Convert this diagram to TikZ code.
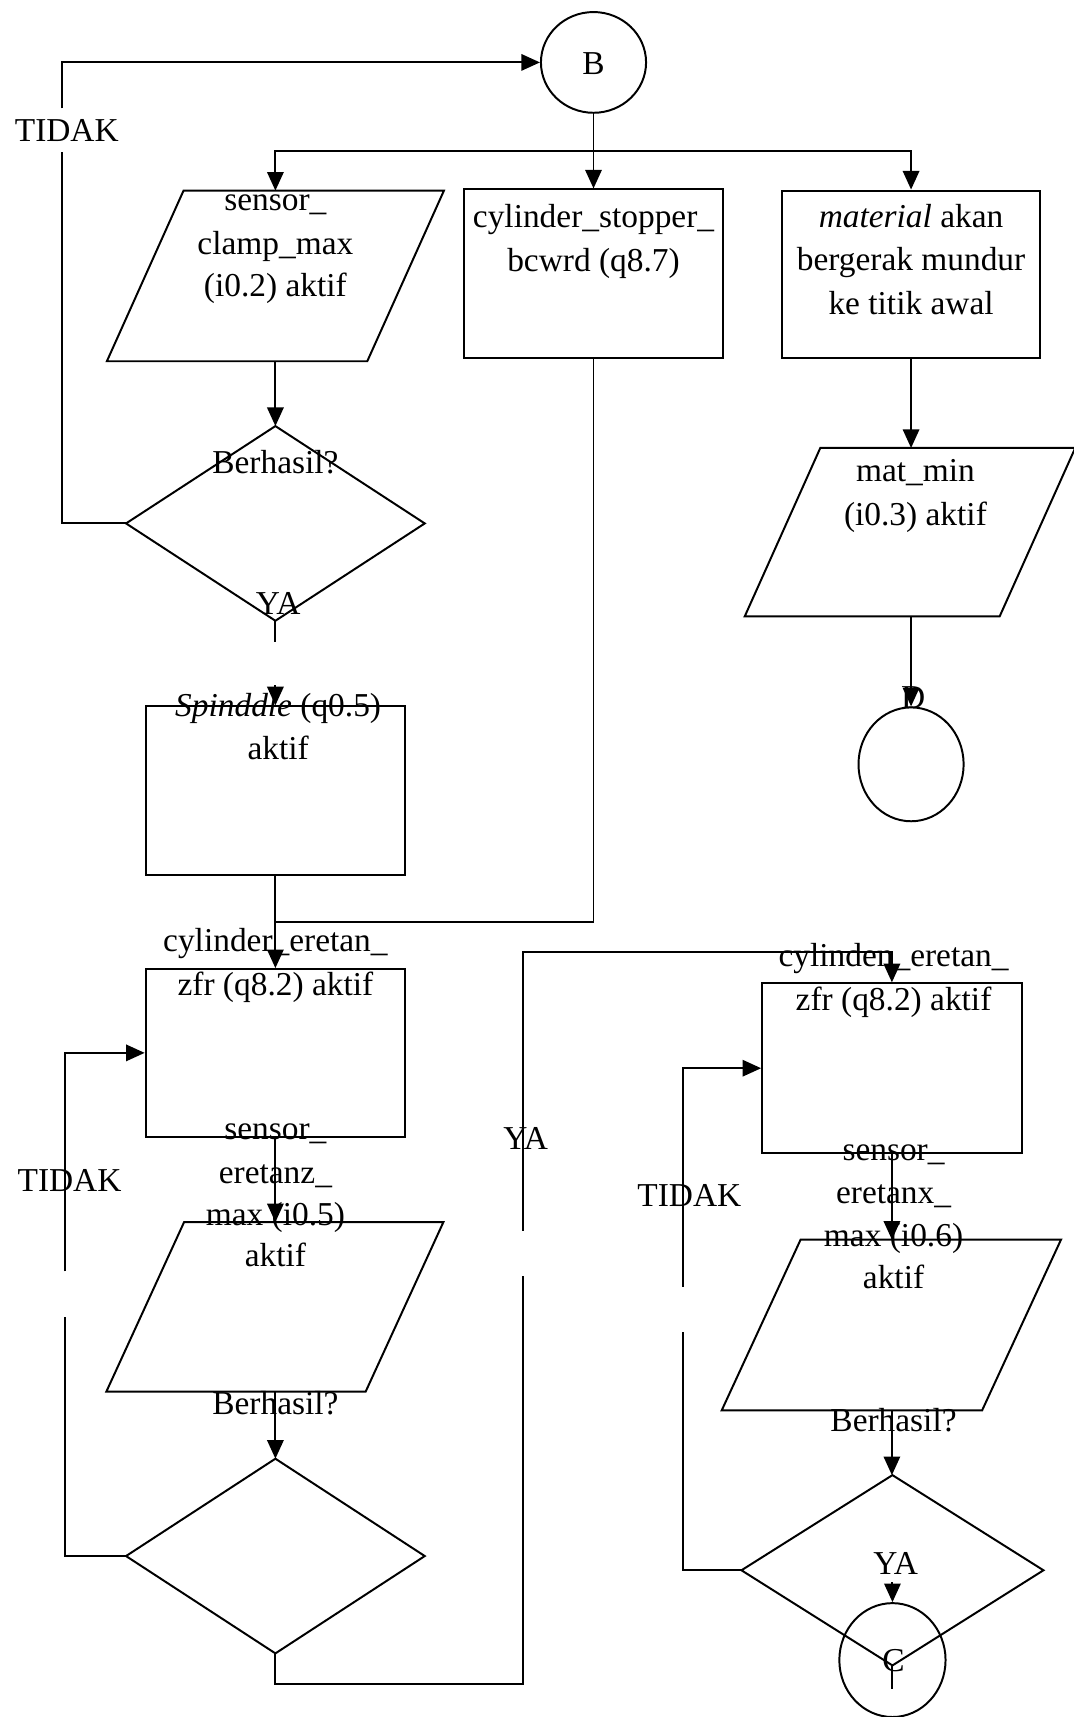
\documentclass[tikz,border=0pt]{standalone}
\usepackage{fontspec}
\setmainfont{Liberation Serif}
\usetikzlibrary{arrows.meta,shapes.geometric}
\begin{document}
\begin{tikzpicture}[x=1pt,y=-1pt,line width=1.8pt,
  arr/.style={-{Triangle[length=17pt,width=15pt]}},
  txt/.style={inner sep=0pt,anchor=base,font=\fontsize{30.5}{36}\selectfont},
  rbox/.style={draw,rectangle,inner sep=0pt},
  hold/.style={rectangle,inner sep=0pt},
  conn/.style={draw,ellipse,inner sep=0pt}]
\fill[white] (0,0) rectangle (980,1568);
\useasboundingbox (0,0) rectangle (980,1568);

% ---------- top ----------
\node[conn,minimum width=96pt,minimum height=92pt] (B) at (542,57) {};
\node[txt] (tB) at (542,68) {B};
\node[txt] (tTidak1) at (61,129) {TIDAK};
\coordinate (br) at (542,138);
\coordinate (g1a) at (57,139);
\coordinate (g1b) at (57,99);

% parallelogram 1
\node[hold,minimum width=306pt,minimum height=154pt] (p1) at (251.5,252) {};
\draw ([xshift=70pt]p1.north west) -- (p1.north east) -- ([xshift=-70pt]p1.south east) -- (p1.south west) -- cycle;
\node[txt] (p1a) at (251.5,192) {sensor\_};
\node[txt] (p1b) at (251.5,232) {clamp\_max};
\node[txt] (p1c) at (251.5,271) {(i0.2) aktif};

% box 2
\node[rbox,minimum width=236pt,minimum height=154pt] (b2) at (542,250) {};
\node[txt] (b2a) at (542,208) {cylinder\_stopper\_};
\node[txt] (b2b) at (542,248) {bcwrd (q8.7)};

% box 3
\node[rbox,minimum width=236pt,minimum height=153pt] (b3) at (832,250.5) {};
\node[txt] (b3a) at (832,208) {\textit{material} akan};
\node[txt] (b3b) at (832,247) {bergerak mundur};
\node[txt] (b3c) at (832,287) {ke titik awal};

% parallelogram 3
\node[hold,minimum width=300pt,minimum height=152pt] (p3) at (831,486) {};
\draw ([xshift=69pt]p3.north west) -- (p3.north east) -- ([xshift=-69pt]p3.south east) -- (p3.south west) -- cycle;
\node[txt] (p3a) at (836,440) {mat\_min};
\node[txt] (p3b) at (836,480) {(i0.3) aktif};

% connector D
\node[conn,minimum width=96pt,minimum height=104pt] (D) at (832,698) {};
\node[txt] (tD) at (834,647) {D};

% diamond 1
\node[hold,minimum width=271pt,minimum height=176pt] (d1) at (251.5,478) {};
\draw (d1.north) -- (d1.east) -- (d1.south) -- (d1.west) -- cycle;
\node[txt] (d1t) at (251.5,432) {Berhasil?};
\node[txt] (ya1) at (254,561) {YA};
\coordinate (y1a) at (251.5,586);
\coordinate (y1b) at (251.5,626);

% spindle box
\node[rbox,minimum width=237pt,minimum height=154pt] (sp) at (251.5,722) {};
\node[txt] (spa) at (254,654) {\textit{Spinddle} (q0.5)};
\node[txt] (spb) at (254,694) {aktif};
\coordinate (jn) at (251.5,842);

% cylinder eretan box (left)
\node[rbox,minimum width=237pt,minimum height=153pt] (ce) at (251.5,961.5) {};
\node[txt] (cea) at (251.5,869) {cylinder\_eretan\_};
\node[txt] (ceb) at (251.5,909) {zfr (q8.2) aktif};

% parallelogram 2
\node[hold,minimum width=306pt,minimum height=153pt] (p2) at (251,1193.5) {};
\draw ([xshift=71pt]p2.north west) -- (p2.north east) -- ([xshift=-71pt]p2.south east) -- (p2.south west) -- cycle;
\node[txt] (p2a) at (251.5,1041) {sensor\_};
\node[txt] (p2b) at (251.5,1081) {eretanz\_};
\node[txt] (p2c) at (251.5,1119) {max (i0.5)};
\node[txt] (p2d) at (251.5,1157) {aktif};

% diamond 2
\node[hold,minimum width=271pt,minimum height=176pt] (d2) at (251.5,1421) {};
\draw (d2.north) -- (d2.east) -- (d2.south) -- (d2.west) -- cycle;
\node[txt] (d2t) at (251.5,1292) {Berhasil?};
\node[txt] (tTidak2) at (63.5,1088) {TIDAK};
\coordinate (g2a) at (59.5,1203);
\coordinate (g2b) at (59.5,1161);
\node[txt] (ya2) at (480,1050) {YA};
\coordinate (g3a) at (478,1165);
\coordinate (g3b) at (478,1124);

% box 4
\node[rbox,minimum width=237pt,minimum height=155pt] (b4) at (814.5,975.5) {};
\node[txt] (b4a) at (816,883) {cylinden\_eretan\_};
\node[txt] (b4b) at (816,923) {zfr (q8.2) aktif};

% parallelogram 4
\node[hold,minimum width=308pt,minimum height=154pt] (p4) at (814,1210) {};
\draw ([xshift=72pt]p4.north west) -- (p4.north east) -- ([xshift=-72pt]p4.south east) -- (p4.south west) -- cycle;
\node[txt] (p4a) at (816,1060) {sensor\_};
\node[txt] (p4b) at (816,1099) {eretanx\_};
\node[txt] (p4c) at (816,1138) {max (i0.6)};
\node[txt] (p4d) at (816,1177) {aktif};
\node[txt] (p4t) at (816,1307) {Berhasil?};

% diamond 4
\node[hold,minimum width=274pt,minimum height=172pt] (d4) at (815,1434) {};
\draw (d4.north) -- (d4.east) -- (d4.south) -- (d4.west) -- cycle;
\node[txt] (tTidak4) at (629.5,1102) {TIDAK};
\coordinate (g4a) at (624,1216);
\coordinate (g4b) at (624,1175);
\node[txt] (ya4) at (818,1438) {YA};
\coordinate (ca) at (815,1445);

% connector C
\node[conn,minimum width=97pt,minimum height=104pt] (C) at (815,1516) {};
\node[txt] (tC) at (816,1526) {C};
\coordinate (ct1) at (815,1520);
\coordinate (ct2) at (815,1542);

% ---------- connectors ----------
\draw (d1.west) -- (d1.west -| g1a) -- (g1a);
\draw[arr] (g1b) -- (g1b |- B.west) -- (B.west);
\draw[arr] (B.south) -- (b2.north);
\draw[arr] (br) -| (p1.north);
\draw[arr] (br) -| (b3.north);
\draw[arr] (p1.south) -- (p1.south |- d1.north);
\draw[arr] (b3.south) -- (b3.south |- p3.north);
\draw[arr] (b3.south |- p3.south) -- (b3.south |- D.north);
\draw (d1.south) -- (y1a);
\draw[arr] (y1b) -- (sp.north);
\draw[arr] (sp.south) -- (ce.north);
\draw (b2.south) -- (b2.south |- jn) -- (jn);
\draw[arr] (ce.south) -- (ce.south |- p2.north);
\draw[arr] (ce.south |- p2.south) -- (ce.south |- d2.north);
\draw (d2.west) -- (d2.west -| g2a) -- (g2a);
\draw[arr] (g2b) -- (g2b |- ce.west) -- (ce.west);
\draw (d2.south) -- (251.5,1538) -| (g3a);
\draw[arr] (g3b) -- (478,869) -| (b4.north);
\draw[arr] (b4.south) -- (b4.south |- p4.north);
\draw[arr] (b4.south |- p4.south) -- (b4.south |- d4.north);
\draw (d4.west) -- (d4.west -| g4a) -- (g4a);
\draw[arr] (g4b) -- (g4b |- b4.west) -- (b4.west);
\draw[arr] (ca) -- (C.north);
\draw (ct1) -- (ct2);
\end{tikzpicture}
\end{document}
